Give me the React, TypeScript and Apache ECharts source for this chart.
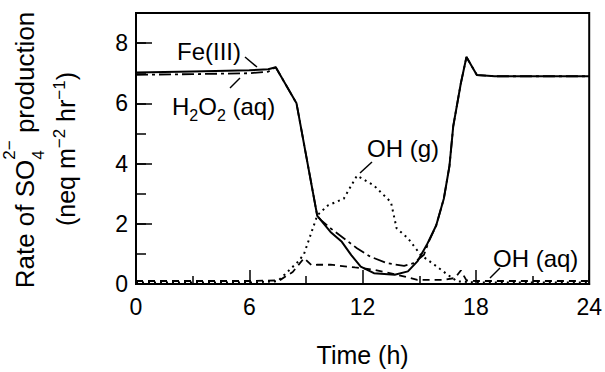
import React, { useEffect, useRef } from "react";
import * as echarts from "echarts";

// ---- data ----
const xTicks = [0, 6, 12, 18, 24];
const yTicks = [0, 2, 4, 6, 8];

const timeFe = [0, 3, 6, 7, 7.4, 8.5, 9.6, 10.3, 10.9, 11.4, 11.9, 12.6, 13.7, 14.4, 14.9, 15.4, 15.9, 16.3, 16.6, 16.8, 17.2, 17.5, 18.05, 19, 21, 24];
const fe3 = [7.02, 7.06, 7.1, 7.13, 7.2, 6.0, 2.26, 1.73, 1.4, 0.96, 0.58, 0.36, 0.31, 0.42, 0.75, 1.3, 1.95, 2.83, 3.92, 5.24, 6.66, 7.54, 6.94, 6.9, 6.9, 6.9];

const timeH2O2 = [0, 3, 6, 7, 7.4, 8.5, 9.6, 9.8, 10.3, 11.0, 11.7, 12.4, 13.3, 14.2, 14.7, 15.25, 15.5, 15.9, 16.3, 16.6, 16.8, 17.2, 17.5, 18.05, 19, 21, 24];
const h2o2 = [6.95, 6.97, 7.0, 7.05, 7.2, 6.0, 2.26, 2.12, 1.85, 1.52, 1.19, 0.91, 0.69, 0.6, 0.69, 0.97, 1.4, 1.95, 2.83, 3.92, 5.24, 6.66, 7.54, 6.94, 6.9, 6.9, 6.9];

const timeOHg = [0, 6, 7.5, 8.05, 8.6, 8.9, 9.6, 10.16, 11.0, 11.7, 12.6, 13.5, 13.8, 14.4, 15.07, 15.8, 16.5, 17.0, 18, 24];
const ohGas = [0.05, 0.05, 0.09, 0.42, 0.75, 1.0, 2.28, 2.61, 2.83, 3.6, 3.27, 2.72, 1.85, 1.52, 0.97, 0.64, 0.31, 0.09, 0.05, 0.05];

const timeOHaq = [0, 6, 7.6, 8.3, 8.9, 9.3, 9.6, 10.3, 11.6, 11.9, 12.6, 13.8, 14.9, 16.3, 16.9, 17.2, 17.5, 18, 24];
const ohAq = [0.1, 0.1, 0.12, 0.4, 0.86, 0.62, 0.64, 0.64, 0.55, 0.53, 0.47, 0.31, 0.14, 0.14, 0.2, 0.45, 0.12, 0.1, 0.1];

const FONT = '"Liberation Sans", Arial, Helvetica, sans-serif';

const zip = (t: number[], v: number[]) => t.map((x, i) => [x, v[i]]);

let _ctx: CanvasRenderingContext2D | null = null;
function tw(t: string, fs: number) {
  if (!_ctx) _ctx = document.createElement("canvas").getContext("2d");
  if (!_ctx) return t.length * fs * 0.55;
  _ctx.font = `${fs}px ${FONT}`;
  return _ctx.measureText(t).width;
}

type Seg = { t: string; fs: number; dy?: number; stack?: boolean };

// builds a text run with baseline at (x, y); sub/superscripts via dy (baseline shift)
function textRun(segs: Seg[], x: number, y: number, anchor: "start" | "middle" | "end", rotation = 0) {
  let cur = 0;
  let prevStart = 0;
  const items: { s: Seg; x: number }[] = [];
  segs.forEach((s) => {
    const start = s.stack ? prevStart : cur;
    const w = tw(s.t, s.fs);
    items.push({ s, x: start });
    prevStart = start;
    cur = Math.max(cur, start + w);
  });
  const off = anchor === "middle" ? -cur / 2 : anchor === "end" ? -cur : 0;
  return {
    type: "group",
    x,
    y,
    rotation,
    children: items.map(({ s, x: px }) => ({
      type: "text",
      x: px + off,
      y: (s.dy || 0) - 0.3465 * s.fs,
      style: {
        text: s.t,
        fontSize: s.fs,
        fontFamily: FONT,
        font: `${s.fs}px ${FONT}`,
        fill: "#000",
        align: "left",
        textAlign: "left",
        verticalAlign: "middle",
        textVerticalAlign: "middle",
      },
    })),
  };
}

function leader(x1: number, y1: number, x2: number, y2: number) {
  return { type: "line", shape: { x1, y1, x2, y2 }, style: { stroke: "#000", lineWidth: 1.5 } };
}

export default function App() {
  const ref = useRef<HTMLDivElement>(null);
  useEffect(() => {
    if (!ref.current) return;
    const chart = echarts.init(ref.current, null, { renderer: "svg", width: 605, height: 372 });
    const black = "#000";
    const option: any = {
      animation: false,
      backgroundColor: "#fff",
      grid: { left: 136, right: 12, top: 13, bottom: 86, show: true, borderColor: black, borderWidth: 2, backgroundColor: "transparent" },
      xAxis: {
        type: "value",
        min: 0,
        max: 24,
        interval: 6,
        name: "Time (h)",
        nameLocation: "middle",
        nameGap: 58,
        nameTextStyle: { color: black, fontSize: 25, fontFamily: FONT },
        axisLine: { show: true, lineStyle: { color: black, width: 2 } },
        axisTick: { show: true, inside: true, length: 14, lineStyle: { color: black, width: 1.5 } },
        minorTick: { show: true, splitNumber: 2, length: 8, lineStyle: { color: black, width: 1.5 } },
        axisLabel: { color: black, fontSize: 23, fontFamily: FONT, margin: 11, formatter: (v: number) => (xTicks.includes(v) ? String(v) : "") },
        splitLine: { show: false },
      },
      yAxis: [
        {
          type: "value",
          min: 0,
          max: 9,
          interval: 2,
          position: "left",
          axisLine: { show: true, lineStyle: { color: black, width: 2 } },
          axisTick: { show: true, inside: true, length: 16, lineStyle: { color: black, width: 1.5 } },
          axisLabel: { color: black, fontSize: 23, fontFamily: FONT, margin: 8, formatter: (v: number) => (yTicks.includes(v) ? String(v) : "") },
          splitLine: { show: false },
        },
        {
          type: "value",
          min: 0,
          max: 9,
          interval: 1,
          position: "left",
          offset: 0,
          axisLine: { show: false },
          axisTick: { show: true, inside: true, length: 10, lineStyle: { color: black, width: 1.5 } },
          axisLabel: { show: false },
          splitLine: { show: false },
        },
      ],
      series: [
        { name: "OH (g)", type: "line", showSymbol: false, data: zip(timeOHg, ohGas), lineStyle: { color: black, width: 2, type: [2, 4] } },
        { name: "OH (aq)", type: "line", showSymbol: false, data: zip(timeOHaq, ohAq), lineStyle: { color: black, width: 1.8, type: [7, 5] } },
        { name: "H2O2 (aq)", type: "line", showSymbol: false, data: zip(timeH2O2, h2o2), lineStyle: { color: black, width: 1.8, type: [12, 4, 3, 4] } },
        { name: "Fe(III)", type: "line", showSymbol: false, data: zip(timeFe, fe3), lineStyle: { color: black, width: 2 } },
      ],
      graphic: [
        // y-axis title, two rotated lines
        textRun(
          [
            { t: "Rate of SO", fs: 26 },
            { t: "4", fs: 17, dy: 10 },
            { t: "2\u2212", fs: 17, dy: -19, stack: true },
            { t: " production", fs: 26 },
          ],
          34,
          150,
          "middle",
          Math.PI / 2
        ),
        textRun(
          [
            { t: "(neq m", fs: 25 },
            { t: "\u22122", fs: 17, dy: -10 },
            { t: " hr", fs: 25 },
            { t: "\u22121", fs: 17, dy: -10 },
            { t: ")", fs: 25 },
          ],
          75,
          149,
          "middle",
          Math.PI / 2
        ),
        // annotations
        textRun([{ t: "Fe(III)", fs: 24 }], 177, 60, "start"),
        leader(245, 57, 257, 67),
        textRun(
          [
            { t: "H", fs: 24 },
            { t: "2", fs: 16, dy: 6 },
            { t: "O", fs: 24 },
            { t: "2", fs: 16, dy: 6 },
            { t: " (aq)", fs: 24 },
          ],
          172,
          115,
          "start"
        ),
        leader(230, 88, 240, 78),
        textRun([{ t: "OH (g)", fs: 24 }], 367, 157, "start"),
        leader(372, 162, 360, 173),
        textRun([{ t: "OH (aq)", fs: 24 }], 493, 267, "start"),
        leader(500, 268, 490, 278),
      ],
    };
    chart.setOption(option);
    return () => chart.dispose();
  }, []);
  return <div ref={ref} style={{ position: "fixed", left: 0, top: 0, width: 605, height: 372, background: "#fff" }} />;
}
